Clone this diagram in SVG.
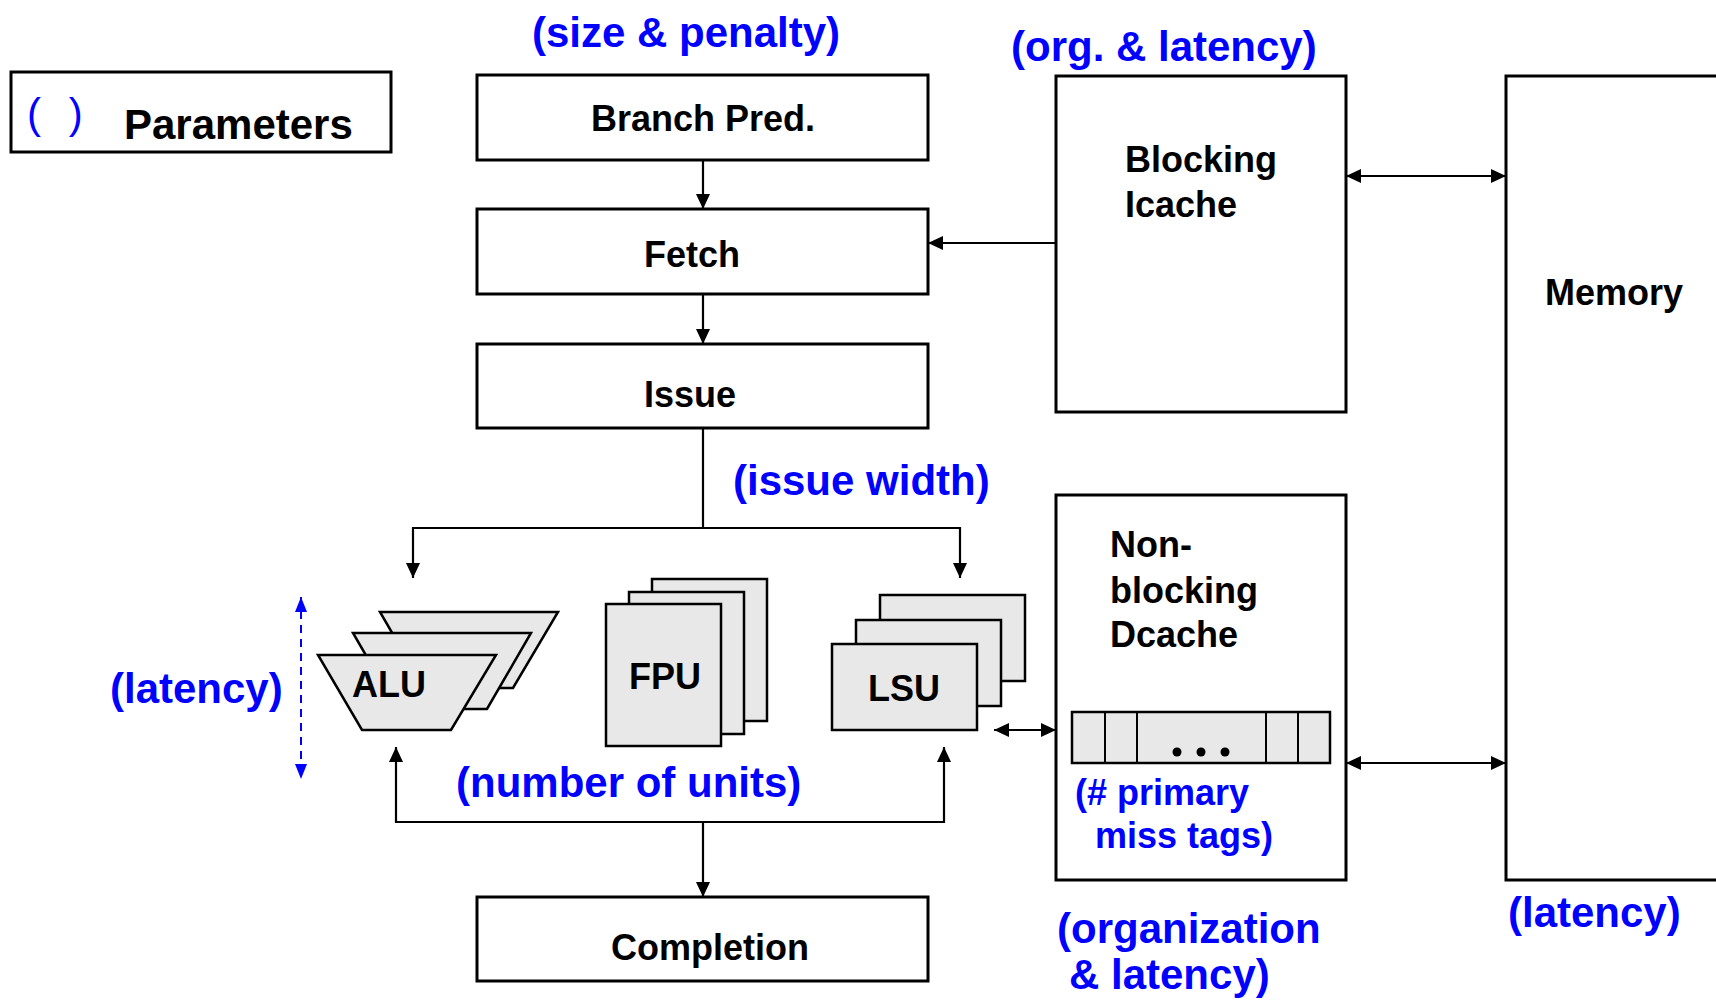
<svg xmlns="http://www.w3.org/2000/svg" width="1716" height="1000" viewBox="0 0 1716 1000">
  <style>
    .box { fill: #ffffff; stroke: #000000; stroke-width: 3; }
    .unit { fill: #e8e8e8; stroke: #000000; stroke-width: 2.5; stroke-linejoin: miter; }
    .tag { fill: #e8e8e8; stroke: #000000; stroke-width: 2.5; }
    .wire { fill: none; stroke: #000000; stroke-width: 2.2; }
    .lbl { font-family: "Liberation Sans", Arial, Helvetica, sans-serif; font-weight: bold; font-size: 36px; fill: #000000; }
    .lbl-lg { font-size: 42px; }
    .param { font-family: "Liberation Sans", Arial, Helvetica, sans-serif; font-weight: bold; font-size: 42px; fill: #0000ff; }
    .param-sm { font-family: "Liberation Sans", Arial, Helvetica, sans-serif; font-weight: bold; font-size: 36px; fill: #0000ff; }
  </style>
  <defs>
    <marker id="arrow" viewBox="0 0 15 14" refX="15" refY="7" markerWidth="15" markerHeight="14" markerUnits="userSpaceOnUse" orient="auto-start-reverse">
      <path d="M0,0 L15,7 L0,14 z" fill="#000000"/>
    </marker>
    <marker id="arrow-blue" viewBox="0 0 15 12" refX="15" refY="6" markerWidth="15" markerHeight="12" markerUnits="userSpaceOnUse" orient="auto-start-reverse">
      <path d="M0,0 L15,6 L0,12 z" fill="#0000ff"/>
    </marker>
  </defs>

  <rect width="1716" height="1000" fill="#ffffff"/>

  <!-- legend -->
  <g id="legend">
    <rect class="box" x="11" y="72" width="380" height="80"/>
    <text x="27" y="128" font-family="'Liberation Sans', Arial, sans-serif" font-size="42" fill="#0000ff" letter-spacing="8">( )</text>
    <text class="lbl lbl-lg" x="124" y="139">Parameters</text>
  </g>

  <!-- pipeline stages -->
  <g id="branch-pred">
    <rect class="box" x="477" y="75" width="451" height="85"/>
    <text class="lbl" x="703" y="131" text-anchor="middle">Branch Pred.</text>
  </g>
  <g id="fetch">
    <rect class="box" x="477" y="209" width="451" height="85"/>
    <text class="lbl" x="644" y="267">Fetch</text>
  </g>
  <g id="issue">
    <rect class="box" x="477" y="344" width="451" height="84"/>
    <text class="lbl" x="644" y="407">Issue</text>
  </g>
  <g id="completion">
    <rect class="box" x="477" y="897" width="451" height="84"/>
    <text class="lbl" x="611" y="960">Completion</text>
  </g>

  <!-- caches and memory -->
  <g id="icache">
    <rect class="box" x="1056" y="76" width="290" height="336"/>
    <text class="lbl" x="1125" y="172">Blocking</text>
    <text class="lbl" x="1125" y="217">Icache</text>
  </g>
  <g id="dcache">
    <rect class="box" x="1056" y="495" width="290" height="385"/>
    <text class="lbl" x="1110" y="557">Non-</text>
    <text class="lbl" x="1110" y="603">blocking</text>
    <text class="lbl" x="1110" y="647">Dcache</text>
    <g id="miss-tags">
      <rect class="tag" x="1072" y="712" width="258" height="51"/>
      <line x1="1105" y1="712" x2="1105" y2="763" stroke="#000" stroke-width="2"/>
      <line x1="1137" y1="712" x2="1137" y2="763" stroke="#000" stroke-width="2"/>
      <line x1="1266" y1="712" x2="1266" y2="763" stroke="#000" stroke-width="2"/>
      <line x1="1298" y1="712" x2="1298" y2="763" stroke="#000" stroke-width="2"/>
      <circle cx="1177" cy="752" r="4.5" fill="#000"/>
      <circle cx="1201" cy="752" r="4.5" fill="#000"/>
      <circle cx="1225" cy="752" r="4.5" fill="#000"/>
    </g>
    <text class="param-sm" x="1075" y="805">(# primary</text>
    <text class="param-sm" x="1095" y="848">miss tags)</text>
  </g>
  <g id="memory">
    <rect class="box" x="1506" y="76" width="260" height="804"/>
    <text class="lbl" x="1545" y="305">Memory</text>
  </g>

  <!-- functional units -->
  <g id="alu">
    <polygon class="unit" points="380,612 558,612 513,688 424,688"/>
    <polygon class="unit" points="353,633 531,633 487,709 397,709"/>
    <polygon class="unit" points="318,655 496,655 451,730 362,730"/>
    <text class="lbl" x="352" y="697">ALU</text>
  </g>
  <g id="fpu">
    <rect class="unit" x="652" y="579" width="115" height="142"/>
    <rect class="unit" x="629" y="592" width="115" height="142"/>
    <rect class="unit" x="606" y="604" width="115" height="142"/>
    <text class="lbl" x="629" y="689">FPU</text>
  </g>
  <g id="lsu">
    <rect class="unit" x="880" y="595" width="145" height="86"/>
    <rect class="unit" x="856" y="620" width="145" height="86"/>
    <rect class="unit" x="832" y="644" width="145" height="86"/>
    <text class="lbl" x="868" y="701">LSU</text>
  </g>

  <!-- parameter annotations -->
  <g id="annotations">
    <text class="param" x="532" y="47">(size &amp; penalty)</text>
    <text class="param" x="1011" y="61">(org. &amp; latency)</text>
    <text class="param" x="733" y="495">(issue width)</text>
    <text class="param" x="110" y="703">(latency)</text>
    <text class="param" x="456" y="797">(number of units)</text>
    <text class="param" x="1057" y="943">(organization</text>
    <text class="param" x="1069" y="989">&amp; latency)</text>
    <text class="param" x="1508" y="927">(latency)</text>
  </g>

  <!-- connectors -->
  <g id="connectors">
    <path class="wire" d="M703,160 L703,209" marker-end="url(#arrow)"/>
    <path class="wire" d="M703,294 L703,344" marker-end="url(#arrow)"/>
    <path class="wire" d="M1056,243 L928,243" marker-end="url(#arrow)"/>
    <path class="wire" d="M1346,176 L1506,176" marker-start="url(#arrow)" marker-end="url(#arrow)"/>
    <path class="wire" d="M703,428 L703,528"/>
    <path class="wire" d="M413,578 L413,528 L960,528 L960,578" marker-start="url(#arrow)" marker-end="url(#arrow)"/>
    <path class="wire" d="M396,747 L396,822 L944,822 L944,747" marker-start="url(#arrow)" marker-end="url(#arrow)"/>
    <path class="wire" d="M703,822 L703,897" marker-end="url(#arrow)"/>
    <path class="wire" d="M994,730 L1056,730" marker-start="url(#arrow)" marker-end="url(#arrow)"/>
    <path class="wire" d="M1346,763 L1506,763" marker-start="url(#arrow)" marker-end="url(#arrow)"/>
    <path d="M301,597 L301,779" fill="none" stroke="#0000ff" stroke-width="2" stroke-dasharray="8,6" marker-start="url(#arrow-blue)" marker-end="url(#arrow-blue)"/>
  </g>
</svg>
